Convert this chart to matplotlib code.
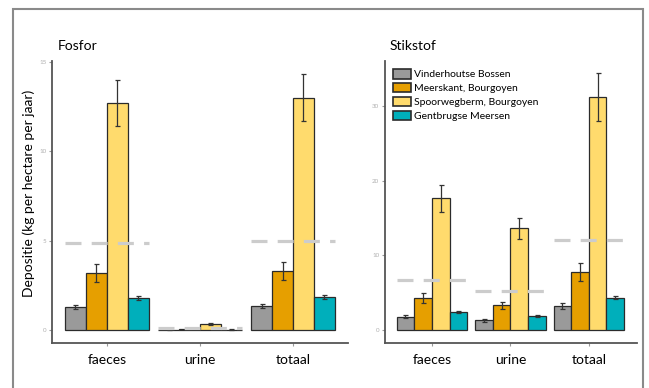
import numpy as np
import matplotlib.pyplot as plt
from matplotlib.patches import Rectangle, Patch

plt.rcParams['font.family'] = ['Lato', 'DejaVu Sans']

categories = ['faeces', 'urine', 'totaal']
sites = ['Vinderhoutse Bossen', 'Meerskant, Bourgoyen', 'Spoorwegberm, Bourgoyen', 'Gentbrugse Meersen']
colors = ['#9a9a9a', '#e69f00', '#ffdb6d', '#00afbb']

# Fosfor (kg/ha/jaar), one list per site, order faeces / urine / totaal
p_vinder = [1.28, 0.02, 1.35]
p_meers = [3.2, 0.05, 3.3]
p_spoor = [12.7, 0.35, 13.0]
p_gent = [1.8, 0.02, 1.85]
p_vinder_err = [0.1, 0.01, 0.12]
p_meers_err = [0.5, 0.02, 0.5]
p_spoor_err = [1.3, 0.05, 1.3]
p_gent_err = [0.1, 0.01, 0.1]
p_ref = [4.85, 0.1, 5.0]

# Stikstof
n_vinder = [1.8, 1.3, 3.2]
n_meers = [4.3, 3.3, 7.8]
n_spoor = [17.6, 13.6, 31.2]
n_gent = [2.4, 1.9, 4.3]
n_vinder_err = [0.2, 0.2, 0.35]
n_meers_err = [0.7, 0.5, 1.2]
n_spoor_err = [1.8, 1.4, 3.2]
n_gent_err = [0.15, 0.1, 0.2]
n_ref = [6.7, 5.2, 12.0]

p_vals = [p_vinder, p_meers, p_spoor, p_gent]
p_errs = [p_vinder_err, p_meers_err, p_spoor_err, p_gent_err]
n_vals = [n_vinder, n_meers, n_spoor, n_gent]
n_errs = [n_vinder_err, n_meers_err, n_spoor_err, n_gent_err]


def draw_panel(ax, vals, errs, ref, title, ticks):
    x = np.arange(len(categories))
    w = 0.9 / 4
    for i in range(4):
        pos = x - 0.45 + w / 2 + i * w
        ax.bar(pos, vals[i], width=w, color=colors[i], edgecolor='#2b2b2b', linewidth=0.9, zorder=2)
        ax.errorbar(pos, vals[i], yerr=errs[i], fmt='none', ecolor='#333333', elinewidth=0.9,
                    capsize=1.8, capthick=0.9, zorder=3)
    # reference level per category
    for j in range(len(categories)):
        ax.hlines(ref[j], x[j] - 0.45, x[j] + 0.45, colors='#cccccc', linewidth=2.3,
                  linestyles=(0, (5, 3.2)), zorder=4)
    ax.set_xticks(x)
    ax.set_xticklabels(categories, fontsize=10)
    ax.set_yticks(ticks)
    ax.set_yticklabels([str(t) for t in ticks], fontsize=4.5, color='#b0b0b0')
    ax.tick_params(axis='y', length=2, color='#999999', pad=2)
    ax.tick_params(axis='x', length=2, color='#999999', pad=6)
    for s in ['top', 'right']:
        ax.spines[s].set_visible(False)
    for s in ['left', 'bottom']:
        ax.spines[s].set_color('#555555')
        ax.spines[s].set_linewidth(1.3)
    ax.text(0.02, 1.03, title, transform=ax.transAxes, fontsize=10, ha='left', va='bottom')


fig = plt.figure(figsize=(6.49, 3.88), dpi=100)

ax1 = fig.add_axes([0.0801, 0.116, 0.456, 0.727])
draw_panel(ax1, p_vals, p_errs, p_ref, 'Fosfor', [0, 5, 10, 15])
ax1.set_xlim(-0.59, 2.59)
ax1.set_ylim(-0.73, 15.05)
ax1.set_ylabel('Depositie (kg per hectare per jaar)', fontsize=10, labelpad=3)
ax1.yaxis.label.set_y(0.53)

ax2 = fig.add_axes([0.593, 0.116, 0.388, 0.727])
draw_panel(ax2, n_vals, n_errs, n_ref, 'Stikstof', [0, 10, 20, 30])
ax2.set_xlim(-0.6, 2.61)
ax2.set_ylim(-1.74, 36.0)

handles = [Patch(facecolor=colors[i], edgecolor='#2b2b2b', linewidth=1.2) for i in range(4)]
ax2.legend(handles, sites, loc='upper left', fontsize=7.5, frameon=False,
           handlelength=1.7, handleheight=1.0, handletextpad=0.25, labelspacing=0.35,
           borderaxespad=0.6, borderpad=0.2)

# grey frame round the whole picture
fig.patches.append(Rectangle((13 / 649, -0.05), 630 / 649, 1.05 - 9 / 388, transform=fig.transFigure,
                             fill=False, edgecolor='#8a8a8a', linewidth=1.5))

fig.savefig('out.png', dpi=100)
